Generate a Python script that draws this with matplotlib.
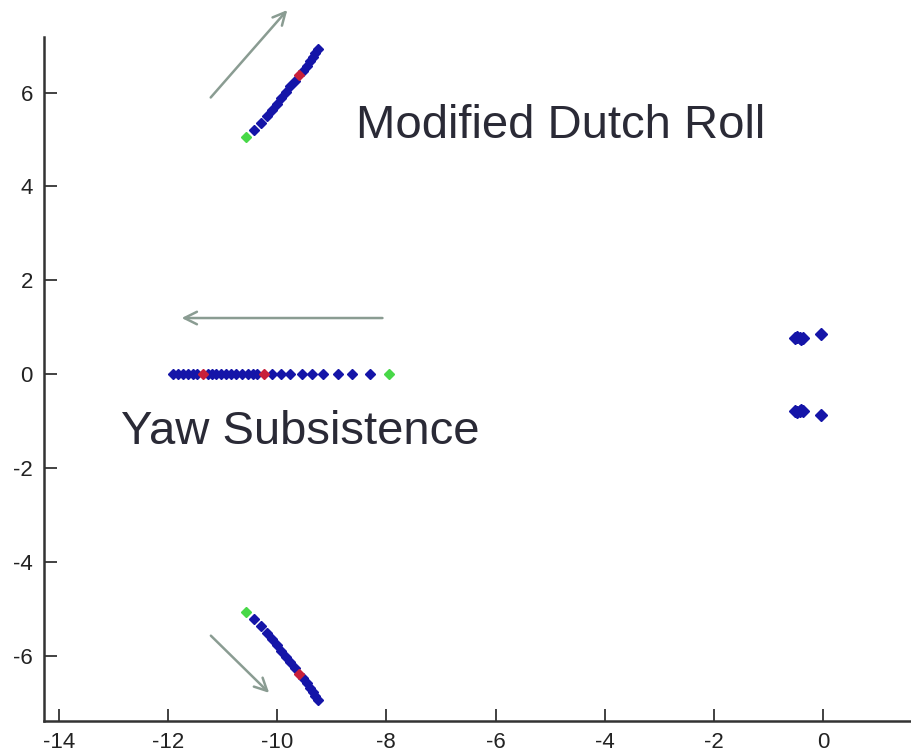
import matplotlib.pyplot as plt

plt.rcParams['axes.unicode_minus'] = False

# real axis branch (yaw subsidence)
yaw_x = [-11.90, -11.82, -11.73, -11.64, -11.55, -11.46, -11.27, -11.19,
         -11.12, -11.03, -10.94, -10.85, -10.75, -10.65, -10.54, -10.45,
         -10.36, -10.10, -9.92, -9.76, -9.55, -9.37, -9.16, -8.89, -8.62, -8.29]
yaw_red_x = [-11.36, -10.24]
yaw_green_x = [-7.95]

# dutch roll branch (upper half, lower half is the conjugate)
dr_x = [-10.42, -10.29, -10.19, -10.10, -10.01, -9.92, -9.84, -9.76, -9.68,
        -9.53, -9.46, -9.39, -9.34, -9.30, -9.26]
dr_y = [5.20, 5.36, 5.50, 5.63, 5.76, 5.89, 6.02, 6.13, 6.24,
        6.46, 6.57, 6.67, 6.76, 6.84, 6.93]
dr_red_x = [-9.60]
dr_red_y = [6.37]
dr_green_x = [-10.57]
dr_green_y = [5.05]

# poles near the origin
near_x = [-0.52, -0.47, -0.43, -0.40, -0.37, -0.04]
near_y = [0.78, 0.80, 0.77, 0.76, 0.78, 0.86]

xticks = [-14, -12, -10, -8, -6, -4, -2, 0]
yticks = [-6, -4, -2, 0, 2, 4, 6]

blue = '#1515a8'
red = '#c8203a'
green = '#48d848'
msize = 5.5

fig = plt.figure(figsize=(9.11, 7.55), dpi=100)
ax = fig.add_axes([0.0483, 0.0455, 0.9517, 0.906])

ax.plot(yaw_x, [0] * len(yaw_x), 'D', color=blue, ms=msize, mec=blue)
ax.plot(yaw_red_x, [0] * len(yaw_red_x), 'D', color=red, ms=msize, mec=red)
ax.plot(yaw_green_x, [0] * len(yaw_green_x), 'D', color=green, ms=msize, mec=green)

for s in (1, -1):
    ax.plot(dr_x, [s * v for v in dr_y], 'D', color=blue, ms=msize, mec=blue)
    ax.plot(dr_red_x, [s * v for v in dr_red_y], 'D', color=red, ms=msize, mec=red)
    ax.plot(dr_green_x, [s * v for v in dr_green_y], 'D', color=green, ms=msize, mec=green)
    ax.plot(near_x, [s * v for v in near_y], 'D', color=blue, ms=msize + 1, mec=blue)

# arrows showing direction of root movement
arrow_col = '#8a9c92'
arrow_kw = dict(arrowstyle='->,head_length=0.9,head_width=0.45', color=arrow_col, lw=1.8)
ax.annotate('', xy=(-9.78, 7.80), xytext=(-11.25, 5.85), arrowprops=arrow_kw,
            annotation_clip=False)
ax.annotate('', xy=(-11.80, 1.20), xytext=(-8.02, 1.20), arrowprops=arrow_kw)
ax.annotate('', xy=(-10.11, -6.82), xytext=(-11.25, -5.52), arrowprops=arrow_kw)

ax.text(-8.56, 5.28, 'Modified Dutch Roll', fontsize=34, family='Liberation Sans',
        color='#2a2a36', ha='left', va='center')
ax.text(-12.86, -1.22, 'Yaw Subsistence', fontsize=34, family='Liberation Sans',
        color='#2a2a36', ha='left', va='center')

ax.set_xlim(-14.27, 1.61)
ax.set_ylim(-7.37, 7.19)
ax.set_xticks(xticks)
ax.set_yticks(yticks)
ax.tick_params(direction='in', length=9, width=1.3, color='#333333',
               labelsize=16, labelcolor='#222222', pad=8)
for lab in ax.get_xticklabels() + ax.get_yticklabels():
    lab.set_family('Liberation Sans')

ax.spines['top'].set_visible(False)
ax.spines['right'].set_visible(False)
for sp in ('left', 'bottom'):
    ax.spines[sp].set_linewidth(1.8)
    ax.spines[sp].set_color('#333333')

fig.savefig('out.png', dpi=100)
